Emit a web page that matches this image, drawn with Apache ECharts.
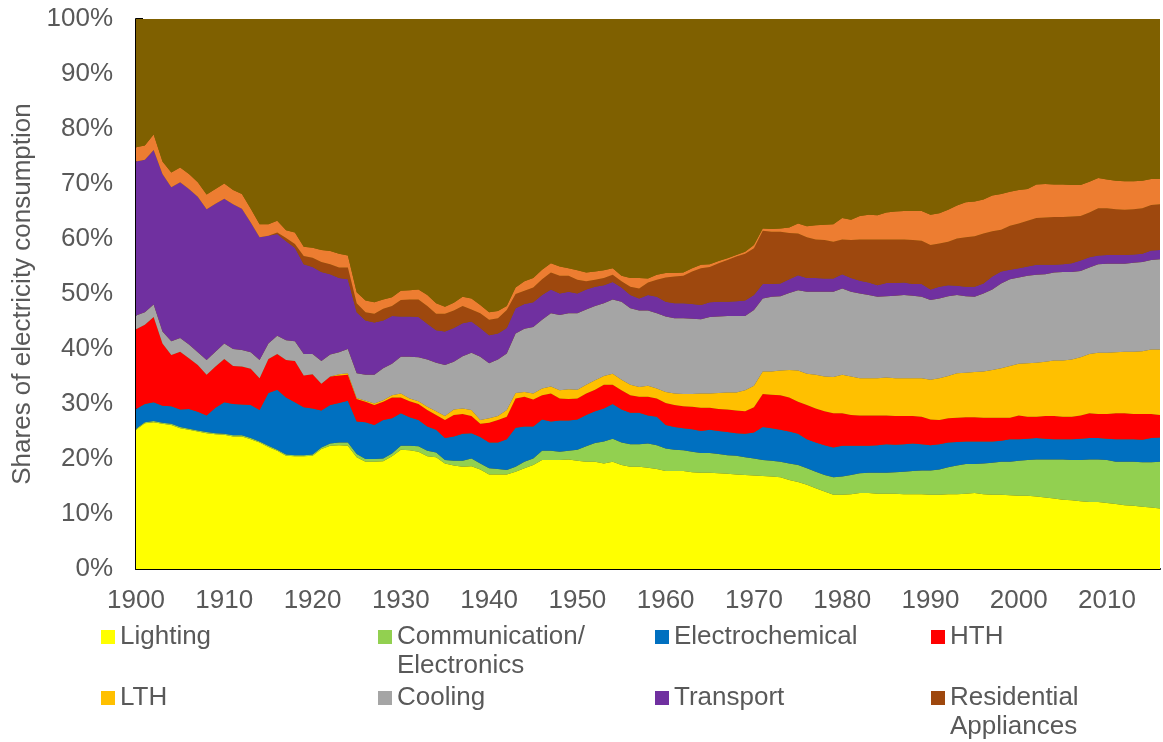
<!DOCTYPE html>
<html>
<head>
<meta charset="utf-8">
<script src="https://cdn.jsdelivr.net/npm/echarts/dist/echarts.min.js"></script>
<style>
html, body { margin: 0; padding: 0; background: #fff; }
#chart { width: 1163px; height: 742px; }
</style>
</head>
<body>
<div id="chart"></div>
<script>
// years 1900..2016, one value per year (share of electricity consumption, %)
const years = [
  1900,1901,1902,1903,1904,1905,1906,1907,1908,1909,
  1910,1911,1912,1913,1914,1915,1916,1917,1918,1919,
  1920,1921,1922,1923,1924,1925,1926,1927,1928,1929,
  1930,1931,1932,1933,1934,1935,1936,1937,1938,1939,
  1940,1941,1942,1943,1944,1945,1946,1947,1948,1949,
  1950,1951,1952,1953,1954,1955,1956,1957,1958,1959,
  1960,1961,1962,1963,1964,1965,1966,1967,1968,1969,
  1970,1971,1972,1973,1974,1975,1976,1977,1978,1979,
  1980,1981,1982,1983,1984,1985,1986,1987,1988,1989,
  1990,1991,1992,1993,1994,1995,1996,1997,1998,1999,
  2000,2001,2002,2003,2004,2005,2006,2007,2008,2009,
  2010,2011,2012,2013,2014,2015,2016
];

const lighting = [
  25.3,26.5,26.7,26.4,26.2,25.6,25.3,25.0,24.7,24.5,
  24.4,24.1,24.1,23.6,23.0,22.2,21.5,20.6,20.5,20.5,
  20.6,21.8,22.4,22.5,22.4,20.3,19.5,19.5,19.6,20.5,
  21.7,21.6,21.3,20.5,20.3,19.2,18.8,18.6,18.7,18.1,
  17.2,17.2,17.2,17.7,18.3,18.9,19.8,19.8,19.8,19.9,
  19.7,19.5,19.5,19.2,19.5,18.9,18.6,18.6,18.4,18.2,
  17.8,17.8,17.8,17.6,17.5,17.5,17.4,17.3,17.2,17.1,
  17.0,16.9,16.8,16.7,16.2,15.8,15.3,14.7,14.1,13.5,
  13.5,13.6,13.8,13.8,13.7,13.7,13.7,13.6,13.6,13.6,
  13.5,13.5,13.6,13.6,13.7,13.8,13.6,13.5,13.5,13.4,
  13.3,13.3,13.2,13.0,12.8,12.6,12.5,12.3,12.2,12.2,
  12.0,11.8,11.6,11.5,11.3,11.2,11.0
];

const communication = [
  0.2,0.2,0.2,0.2,0.2,0.2,0.2,0.2,0.2,0.2,
  0.2,0.2,0.2,0.2,0.2,0.2,0.2,0.2,0.2,0.2,
  0.2,0.3,0.4,0.5,0.6,0.6,0.5,0.5,0.5,0.5,
  0.7,0.8,1.0,1.0,0.9,0.6,0.9,1.1,1.4,1.1,
  1.1,1.0,0.8,0.9,1.2,1.2,1.7,1.7,1.5,1.6,
  2.0,2.8,3.4,4.0,4.2,4.1,4.1,4.1,4.4,4.3,
  4.1,3.9,3.8,3.7,3.6,3.6,3.5,3.4,3.4,3.2,
  3.1,2.9,2.9,2.8,3.0,3.1,3.0,3.0,3.0,3.2,
  3.3,3.5,3.6,3.7,3.8,3.8,3.9,4.1,4.2,4.3,
  4.4,4.6,4.9,5.2,5.4,5.3,5.6,5.8,6.0,6.1,
  6.4,6.5,6.7,6.9,7.1,7.3,7.3,7.5,7.7,7.7,
  7.8,7.7,7.9,8.0,8.1,8.2,8.5
];

const electrochemical = [
  3.6,3.3,3.4,3.1,3.2,3.2,3.6,3.4,3.0,4.6,
  5.7,5.7,5.6,6.0,5.7,9.6,10.9,10.4,9.6,8.7,
  8.4,6.7,7.0,7.2,7.6,5.9,6.7,6.2,7.0,6.4,
  5.9,5.2,4.8,4.4,4.1,4.0,4.4,4.9,4.6,4.8,
  4.7,4.8,5.6,7.1,6.4,5.8,5.7,5.3,5.7,5.5,
  5.5,5.7,5.8,6.0,6.3,6.0,5.7,5.7,5.1,5.2,
  4.3,4.1,4.0,4.1,4.0,4.2,4.2,4.2,4.1,4.3,
  4.7,6.0,5.9,5.8,5.8,5.7,5.3,5.3,5.4,5.4,
  5.6,5.3,5.0,4.9,5.0,5.2,5.0,5.0,5.0,4.8,
  4.6,4.6,4.5,4.3,4.1,4.1,4.0,3.9,3.8,4.1,
  3.9,3.9,3.9,3.8,3.7,3.7,3.8,3.9,3.9,3.9,
  3.9,4.1,4.1,4.1,4.1,4.4,4.4
];

const hth = [
  14.5,14.4,15.5,11.3,9.3,10.5,9.2,8.5,7.4,7.5,
  7.9,6.9,6.9,6.6,5.8,6.2,6.5,6.8,7.5,5.8,
  6.2,4.9,5.2,5.0,4.7,4.1,3.7,3.6,3.3,3.8,
  2.9,2.9,2.9,3.0,2.7,3.3,3.9,3.6,3.1,2.4,
  3.6,4.1,4.1,5.3,5.4,4.9,4.4,5.1,4.0,3.9,
  3.8,3.9,3.9,4.3,3.5,3.5,3.2,2.9,3.4,3.3,
  4.0,4.0,4.0,4.1,4.2,4.0,4.0,4.1,4.1,4.1,
  4.6,6.0,6.1,6.3,6.2,5.8,6.2,6.2,6.2,6.2,
  5.9,5.6,5.5,5.5,5.4,5.2,5.2,5.1,5.0,5.0,
  4.7,4.4,4.4,4.4,4.4,4.4,4.3,4.3,4.2,3.9,
  4.3,4.0,3.9,4.1,4.2,4.1,4.1,4.2,4.5,4.4,
  4.5,4.7,4.7,4.6,4.7,4.4,4.1
];

const lth = [
  0,0,0,0,0,0,0,0,0,0,
  0,0,0,0,0,0,0,0,0,0,
  0,0,0,0.2,0.3,0.2,0.2,0.3,0.3,0.4,
  0.7,0.5,0.5,0.6,0.7,0.7,1.0,1.0,1.1,0.7,
  0.8,0.7,1.2,1.0,0.9,1.1,1.2,1.3,1.5,1.8,
  1.6,1.6,1.7,1.6,2.0,1.9,1.9,1.8,2.0,1.8,
  2.0,2.1,2.2,2.3,2.6,2.6,2.9,3.1,3.3,3.8,
  3.9,4.1,4.2,4.5,5.0,5.7,5.7,6.1,6.3,6.6,
  7.0,7.0,6.8,6.8,6.8,6.9,6.9,6.9,6.9,7.0,
  7.2,7.6,7.7,8.1,8.1,8.2,8.4,8.7,9.0,9.4,
  9.4,9.7,9.8,9.9,10.1,10.2,10.4,10.6,10.8,11.1,
  11.1,11.1,11.2,11.3,11.4,11.7,11.9
];

const cooling = [
  2.5,2.3,2.3,2.2,2.5,2.5,2.5,2.3,2.7,2.7,
  2.8,3.1,3.0,3.0,3.3,2.8,3.3,3.6,3.6,3.9,
  3.7,4.1,4.0,4.0,4.4,4.5,4.7,5.2,5.8,5.7,
  6.7,7.6,8.0,8.6,8.8,9.3,8.7,9.5,10.4,11.5,
  10.0,10.3,10.3,10.8,11.5,12.1,12.5,13.3,13.7,13.8,
  13.9,13.7,13.5,13.2,13.5,14.2,13.9,13.9,13.7,13.7,
  13.7,13.7,13.8,13.7,13.5,13.9,13.9,13.9,13.9,13.5,
  13.8,13.3,13.6,13.5,14.0,14.6,14.9,15.1,15.4,15.5,
  15.7,15.4,15.4,15.1,14.8,14.8,15.0,15.1,15.0,14.8,
  14.5,14.5,14.5,14.2,13.9,13.7,14.2,14.6,15.4,15.8,
  15.7,15.9,16.0,15.9,16.0,16.1,15.9,15.7,15.7,16.1,
  16.2,16.1,16.0,16.2,16.2,16.3,16.4
];

const transport = [
  28.0,27.7,28.1,28.6,28.0,28.3,28.3,28.3,27.4,26.9,
  26.3,26.3,25.7,23.6,22.3,19.6,18.5,18.0,17.0,16.3,
  15.8,16.2,14.6,13.5,12.7,11.1,9.9,9.5,8.7,8.7,
  7.3,7.3,7.3,6.5,5.9,6.1,6.1,6.0,5.7,5.2,
  5.1,4.7,4.6,4.6,4.5,4.5,4.5,4.3,3.9,3.9,
  3.6,3.6,3.5,3.3,3.2,2.6,2.4,2.2,2.8,3.0,
  2.7,2.7,2.7,2.7,2.6,2.7,2.7,2.6,2.7,2.8,
  2.7,2.6,2.3,2.3,2.5,2.7,2.5,2.5,2.4,2.4,
  2.6,2.5,2.3,2.3,2.1,2.4,2.3,2.3,2.1,2.3,
  1.9,2.1,2.0,1.7,1.7,1.8,1.8,2.4,2.2,1.7,
  1.7,1.7,1.8,1.7,1.4,1.4,1.6,1.9,1.9,1.6,
  1.6,1.6,1.6,1.5,1.5,1.7,1.7
];

const residential = [
  0,0,0,0,0,0,0,0,0,0,
  0,0,0,0,0,0,0.3,0.6,0.7,1.5,
  1.7,1.8,1.8,1.9,2.1,1.6,1.5,1.6,2.1,1.8,
  3.0,3.1,3.2,3.2,3.0,3.2,3.2,3.1,2.2,2.7,
  2.8,2.8,3.3,2.6,2.4,2.7,2.9,3.1,3.2,2.9,
  2.5,1.5,1.3,1.3,1.3,1.1,1.5,1.8,2.3,3.1,
  4.4,4.9,5.0,5.9,6.7,6.4,7.0,7.6,8.1,8.5,
  8.5,9.7,9.5,9.4,8.4,7.6,7.4,7.0,7.0,6.7,
  6.3,6.9,7.5,7.8,8.3,7.9,7.9,7.8,8.0,7.9,
  8.1,7.9,7.9,8.6,9.0,9.2,9.1,8.2,7.6,8.0,
  8.1,8.3,8.5,8.6,8.7,8.6,8.5,8.1,8.1,8.6,
  8.5,8.3,8.2,8.2,8.3,8.3,8.3
];

// orange band (not in legend)
const other = [
  2.6,2.6,2.8,2.3,2.7,2.7,2.7,2.6,2.7,2.7,
  2.8,2.6,2.7,2.5,2.4,2.1,2.1,1.4,2.1,1.7,
  1.8,2.2,2.4,2.5,2.2,2.0,2.1,2.1,1.7,1.6,
  1.7,1.7,1.8,2.0,1.9,1.3,1.4,1.7,2.0,1.5,
  1.4,1.3,0.7,1.2,1.7,1.7,1.7,1.7,1.7,1.4,
  1.7,1.6,1.5,1.4,1.2,1.0,1.6,1.9,0.7,0.9,
  0.8,0.6,0.6,0.6,0.6,0.5,0.4,0.3,0.3,0.4,
  0.6,0.4,0.5,0.6,1.0,1.8,2.0,2.6,2.8,3.2,
  3.9,3.7,4.3,4.5,4.4,4.9,5.1,5.2,5.3,5.4,
  5.5,5.5,5.8,6.0,6.4,6.3,6.2,6.5,6.5,6.2,
  6.1,5.8,6.1,6.1,5.9,5.9,5.7,5.6,5.6,5.5,
  5.2,5.2,5.2,5.1,5.0,4.7,4.6
];

// olive top band (not in legend)
const remainder = [
  23.3,23.0,21.0,25.9,27.9,27.0,28.2,29.7,31.9,30.9,
  29.9,31.1,31.8,34.5,37.3,37.3,36.7,38.4,38.8,41.4,
  41.6,42.0,42.2,42.7,43.0,49.7,51.2,51.5,51.0,51.0,
  49.4,49.3,49.2,50.2,51.7,52.3,51.6,50.5,50.8,52.0,
  53.4,53.1,52.2,48.8,47.7,47.1,45.6,44.4,45.0,45.3,
  45.7,46.1,45.9,45.7,45.3,46.7,47.1,47.1,47.2,46.5,
  46.2,46.2,46.1,45.3,44.7,44.6,44.0,43.5,42.9,42.3,
  41.1,38.1,38.2,38.1,37.9,37.2,37.7,37.5,37.4,37.3,
  36.2,36.5,35.8,35.6,35.7,35.2,35.0,34.9,34.9,34.9,
  35.6,35.3,34.7,33.9,33.3,33.2,32.8,32.1,31.8,31.4,
  31.1,30.9,30.1,30.0,30.1,30.1,30.2,30.2,29.6,28.9,
  29.2,29.4,29.5,29.5,29.4,29.1,29.1
];

var textColor = '#595959';
var font = 'Liberation Sans, Arial, sans-serif';

function area(name, data, color) {
  return {
    name: name,
    type: 'line',
    stack: 'share',
    data: data,
    symbol: 'none',
    lineStyle: { width: 0 },
    itemStyle: { color: color },
    areaStyle: { color: color, opacity: 1 },
    emphasis: { disabled: true }
  };
}

// one legend per item, so the 4x2 grid can be placed exactly.
// two-line labels get an empty first line so the first real line sits beside the icon
function legendAt(name, left, iconTop, label) {
  var twoLine = label.indexOf('\n') >= 0;
  return {
    show: true,
    data: [name],
    left: left,
    top: twoLine ? iconTop - 36.5 : iconTop - 7.5,
    padding: 0,
    icon: 'rect',
    itemWidth: 14,
    itemHeight: 14,
    selectedMode: false,
    formatter: function () { return twoLine ? '\n' + label : label; },
    textStyle: {
      color: textColor,
      fontSize: 26,
      fontFamily: font,
      lineHeight: 29
    }
  };
}

var chart = echarts.init(document.getElementById('chart'));
chart.setOption({
  animation: false,
  backgroundColor: '#fff',
  grid: { left: 136, right: 3, top: 19, bottom: 173, show: true, borderWidth: 0, backgroundColor: '#7F6000' },
  legend: [
    legendAt('Lighting', 101, 630, 'Lighting'),
    legendAt('Communication/Electronics', 378, 630, 'Communication/\nElectronics'),
    legendAt('Electrochemical', 655, 630, 'Electrochemical'),
    legendAt('HTH', 931, 630, 'HTH'),
    legendAt('LTH', 101, 691, 'LTH'),
    legendAt('Cooling', 378, 691, 'Cooling'),
    legendAt('Transport', 655, 691, 'Transport'),
    legendAt('Residential Appliances', 931, 691, 'Residential\nAppliances')
  ],
  xAxis: {
    type: 'category',
    data: years,
    boundaryGap: false,
    axisLine: { lineStyle: { color: '#000', width: 2 } },
    axisTick: { inside: true, length: 7, interval: 4, lineStyle: { color: '#000', width: 2 } },
    axisLabel: { interval: 9, color: textColor, fontSize: 26, fontFamily: font, margin: 19 },
    splitLine: { show: false }
  },
  yAxis: {
    type: 'value',
    min: 0,
    max: 100,
    interval: 10,
    axisLine: { show: true, lineStyle: { color: '#000', width: 2 } },
    axisTick: { show: true, inside: true, length: 7, lineStyle: { color: '#000', width: 2 } },
    axisLabel: { formatter: '{value}%', color: textColor, fontSize: 26, fontFamily: font, margin: 23 },
    splitLine: { show: false },
    name: 'Shares of electricity consumption',
    nameLocation: 'middle',
    nameGap: 100,
    nameTextStyle: { color: textColor, fontSize: 26, fontFamily: font }
  },
  series: [
    area('Lighting', lighting, '#FFFF00'),
    area('Communication/Electronics', communication, '#92D050'),
    area('Electrochemical', electrochemical, '#0070C0'),
    area('HTH', hth, '#FF0000'),
    area('LTH', lth, '#FFC000'),
    area('Cooling', cooling, '#A5A5A5'),
    area('Transport', transport, '#7030A0'),
    area('Residential Appliances', residential, '#9E480E'),
    area('Other', other, '#ED7D31'),
    area('Remainder', remainder, '#7F6000')
  ]
});
</script>
</body>
</html>
